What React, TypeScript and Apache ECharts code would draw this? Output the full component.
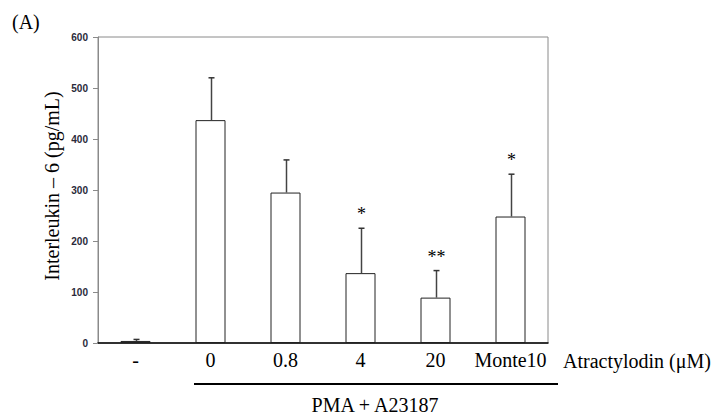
import React, { useEffect, useRef } from "react";
import * as echarts from "echarts";

const categories = ["-", "0", "0.8", "4", "20", "Monte10"];
const means = [4, 437, 295, 137, 89, 248];
const errors = [3, 83, 64, 88, 53, 83];
const significance = ["", "", "", "*", "**", "*"];
const yTicks = { min: 0, max: 600, interval: 100 };

const SERIF = "'Liberation Serif', 'Times New Roman', serif";

export default function App() {
  const ref = useRef<HTMLDivElement>(null);

  useEffect(() => {
    if (!ref.current) return;
    const chart = echarts.init(ref.current, null, { renderer: "svg" });
    const errData = means.map((m, i) => [i, m, m + errors[i]]);
    chart.setOption({
      animation: false,
      backgroundColor: "#ffffff",
      grid: {
        left: 98,
        top: 37,
        width: 450,
        height: 306,
        show: true,
        borderColor: "#8a8a8a",
        borderWidth: 1,
        backgroundColor: "transparent",
      },
      xAxis: {
        type: "category",
        data: categories,
        axisLine: { show: true, lineStyle: { color: "#000", width: 1.5 } },
        axisTick: { show: false },
        axisLabel: {
          fontFamily: SERIF,
          fontSize: 20,
          color: "#000",
          margin: 7,
          interval: 0,
        },
        splitLine: { show: false },
      },
      yAxis: {
        type: "value",
        min: yTicks.min,
        max: yTicks.max,
        interval: yTicks.interval,
        axisLine: { show: true, lineStyle: { color: "#8a8a8a", width: 1 } },
        axisTick: { show: true, inside: false, length: 5, lineStyle: { color: "#8a8a8a" } },
        axisLabel: {
          fontFamily: "'Liberation Sans', Arial, sans-serif",
          fontSize: 10,
          fontWeight: "bold",
          color: "#2a2a3a",
          margin: 10,
        },
        splitLine: { show: false },
      },
      series: [
        {
          type: "bar",
          data: means,
          barWidth: 30,
          itemStyle: { color: "#ffffff", borderColor: "#222", borderWidth: 1 },
          z: 2,
        },
        {
          type: "custom",
          data: errData,
          z: 3,
          renderItem: (params: any, api: any) => {
            const i = api.value(0);
            const base = api.coord([i, api.value(1)]);
            const top = api.coord([i, api.value(2)]);
            const x = Math.round(base[0]) + 0.5;
            const children: any[] = [
              {
                type: "line",
                shape: { x1: x, y1: base[1], x2: x, y2: top[1] },
                style: { stroke: "#444", lineWidth: 1.5 },
              },
              {
                type: "line",
                shape: { x1: x - 3, y1: top[1], x2: x + 3, y2: top[1] },
                style: { stroke: "#333", lineWidth: 1.5 },
              },
            ];
            const sig = significance[params.dataIndex];
            if (sig) {
              children.push({
                type: "text",
                style: {
                  text: sig,
                  x: x,
                  y: top[1] - 5,
                  align: "center",
                  verticalAlign: "bottom",
                  fontFamily: SERIF,
                  fontSize: 18,
                  fill: "#000",
                },
              });
            }
            return { type: "group", children };
          },
        },
      ],
      graphic: [
        {
          type: "text",
          left: 12,
          top: 12,
          style: { text: "(A)", fontFamily: SERIF, fontSize: 20, fill: "#000" },
        },
        {
          type: "text",
          x: 52,
          y: 186,
          rotation: Math.PI / 2,
          style: {
            text: "Interleukin – 6 (pg/mL)",
            fontFamily: SERIF,
            fontSize: 20,
            fill: "#000",
            align: "center",
            verticalAlign: "middle",
          },
        },
        {
          type: "text",
          x: 563,
          y: 361,
          style: {
            text: "Atractylodin (μM)",
            fontFamily: SERIF,
            fontSize: 20,
            fill: "#000",
            align: "left",
            verticalAlign: "middle",
          },
        },
        {
          type: "line",
          shape: { x1: 194, y1: 384, x2: 558, y2: 384 },
          style: { stroke: "#000", lineWidth: 2 },
        },
        {
          type: "text",
          x: 375,
          y: 405,
          style: {
            text: "PMA + A23187",
            fontFamily: SERIF,
            fontSize: 20,
            fill: "#000",
            align: "center",
            verticalAlign: "middle",
          },
        },
      ],
    });
    return () => chart.dispose();
  }, []);

  return (
    <div
      ref={ref}
      style={{ position: "fixed", left: 0, top: 0, width: 719, height: 416 }}
    />
  );
}
